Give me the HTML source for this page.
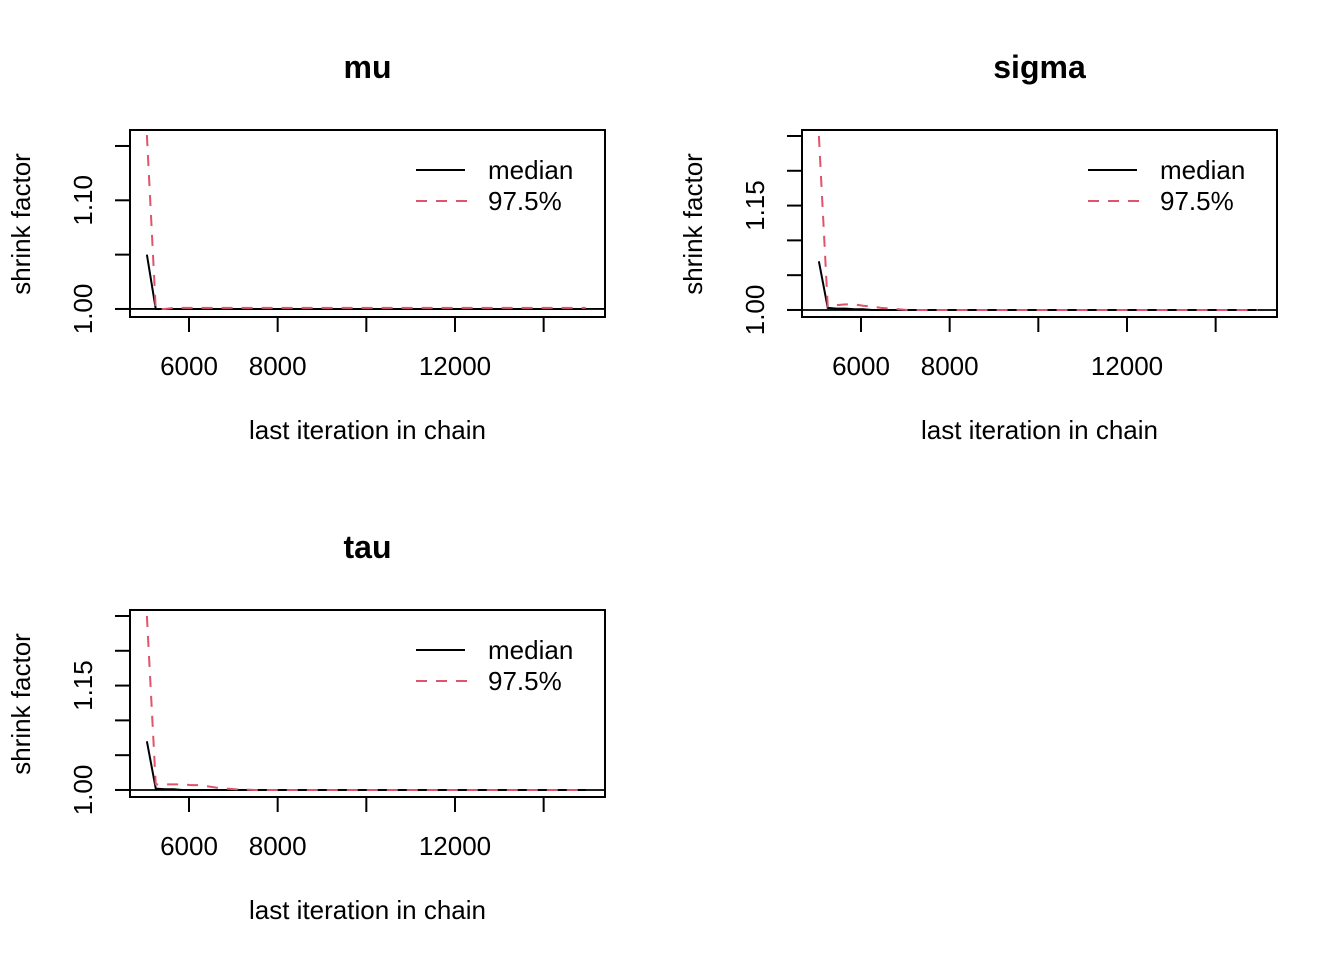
<!DOCTYPE html>
<html><head><meta charset="utf-8"><style>
html,body{margin:0;padding:0;background:#fff}
svg{display:block;font-family:"Liberation Sans",Arial,sans-serif}
</style></head><body>
<svg id="chart" width="1344" height="960" xmlns="http://www.w3.org/2000/svg"></svg>
<script>
const iterations=[5050,5250,5450,5650,5850,6050,6250,6450,6650,6850,7050,7500,8000,9000,10000,11000,12000,13000,14000,14950];
const muMedian=[1.05,1.0,1.0,1.0,1.0,1.0,1.0,1.0,1.0,1.0,1.0,1.0,1.0,1.0,1.0,1.0,1.0,1.0,1.0,1.0];
const mu975=[1.16,1.0,1.0,1.001,1.001,1.001,1.001,1.001,1.001,1.001,1.001,1.001,1.001,1.001,1.001,1.001,1.001,1.001,1.001,1.001];
const sigmaMedian=[1.07,1.003,1.002,1.002,1.001,1.001,1.0,1.0,1.0,1.0,1.0,1.0,1.0,1.0,1.0,1.0,1.0,1.0,1.0,1.0];
const sigma975=[1.25,1.005,1.007,1.008,1.008,1.006,1.005,1.003,1.002,1.001,1.0,1.0,1.0,1.0,1.0,1.0,1.0,1.0,1.0,1.0];
const tauMedian=[1.07,1.002,1.001,1.001,1.0,1.0,1.0,1.0,1.0,1.0,1.0,1.0,1.0,1.0,1.0,1.0,1.0,1.0,1.0,1.0];
const tau975=[1.25,1.008,1.008,1.008,1.008,1.007,1.007,1.005,1.003,1.002,1.001,1.0,1.0,1.0,1.0,1.0,1.0,1.0,1.0,1.0];
const xTicks=[6000,8000,10000,12000,14000];
const xTickLabels=["6000","8000","","12000",""];
const muYTicks=[1.00,1.05,1.10,1.15];
const muYLabels=["1.00","","1.10",""];
const sYTicks=[1.00,1.05,1.10,1.15,1.20,1.25];
const sYLabels=["1.00","","","1.15","",""];

const NS="http://www.w3.org/2000/svg";
const svg=document.getElementById('chart');
function mk(tag,attrs,parent,text){const e=document.createElementNS(NS,tag);for(const k in attrs)e.setAttribute(k,attrs[k]);if(text!==undefined)e.textContent=text;(parent||svg).appendChild(e);return e;}

const panels=[
 {name:'mu',ox:0,oy:0,ymin:0.9926,ymax:1.1647,yt:muYTicks,yl:muYLabels,med:muMedian,q:mu975},
 {name:'sigma',ox:672,oy:0,ymin:0.9899,ymax:1.2586,yt:sYTicks,yl:sYLabels,med:sigmaMedian,q:sigma975},
 {name:'tau',ox:0,oy:480,ymin:0.9899,ymax:1.2586,yt:sYTicks,yl:sYLabels,med:tauMedian,q:tau975}
];
panels.forEach(p=>{
 const L=130+p.ox,R=605+p.ox,T=130+p.oy,B=317+p.oy;
 const xs=v=>L+(v-4669)/(15384-4669)*(R-L);
 const ys=v=>B-(v-p.ymin)/(p.ymax-p.ymin)*(B-T);
 const g=mk('g',{});
 
 
 const t=mk('text',{x:(L+R)/2,y:67+p.oy+11,'text-anchor':'middle','font-size':32,'font-weight':'bold'},g,p.name);
 
 
 const ab=mk('line',{x1:L,x2:R,y1:ys(1),y2:ys(1),stroke:'#000','stroke-width':1.8},g);
 
 
 const mline=mk('polyline',{points:iterations.map((v,i)=>xs(v)+','+ys(p.med[i])).join(' '),fill:'none',stroke:'#000','stroke-width':2},g);
 
 
 const qline=mk('polyline',{points:iterations.map((v,i)=>xs(v)+','+ys(p.q[i])).join(' '),fill:'none',stroke:'#DF536B','stroke-width':2,'stroke-dasharray':'11,9'},g);
 
 
 const box=mk('rect',{x:L,y:T,width:R-L,height:B-T,fill:'none',stroke:'#000','stroke-width':2},g);
 
 
 xTicks.forEach((v,i)=>{
  mk('line',{x1:xs(v),x2:xs(v),y1:B,y2:B+15,stroke:'#000','stroke-width':2},g);
  if(xTickLabels[i]){const tl=mk('text',{x:xs(v),y:B+58,'text-anchor':'middle','font-size':26},g,xTickLabels[i]);
   
   }
 });
 p.yt.forEach((v,i)=>{
  mk('line',{x1:L-15,x2:L,y1:ys(v),y2:ys(v),stroke:'#000','stroke-width':2},g);
  if(p.yl[i]){const tl=mk('text',{x:0,y:0,'text-anchor':'middle','font-size':26,transform:`translate(${L-38},${ys(v)}) rotate(-90)`},g,p.yl[i]);
   
   }
 });
 const xt=mk('text',{x:(L+R)/2,y:439+p.oy,'text-anchor':'middle','font-size':26},g,'last iteration in chain');
 
 
 const yt=mk('text',{x:0,y:0,'text-anchor':'middle','font-size':26,transform:`translate(${30+p.ox},${224+p.oy}) rotate(-90)`},g,'shrink factor');
 
 
 const lg=mk('g',{},g);
 
 
 mk('line',{x1:416+p.ox,x2:465+p.ox,y1:170+p.oy,y2:170+p.oy,stroke:'#000','stroke-width':2},lg);
 mk('text',{x:488+p.ox,y:179+p.oy,'font-size':26},lg,'median');
 mk('line',{x1:416+p.ox,x2:468+p.ox,y1:201+p.oy,y2:201+p.oy,stroke:'#DF536B','stroke-width':2,'stroke-dasharray':'11,9'},lg);
 mk('text',{x:488+p.ox,y:210+p.oy,'font-size':26},lg,'97.5%');
});
</script>
</body></html>
